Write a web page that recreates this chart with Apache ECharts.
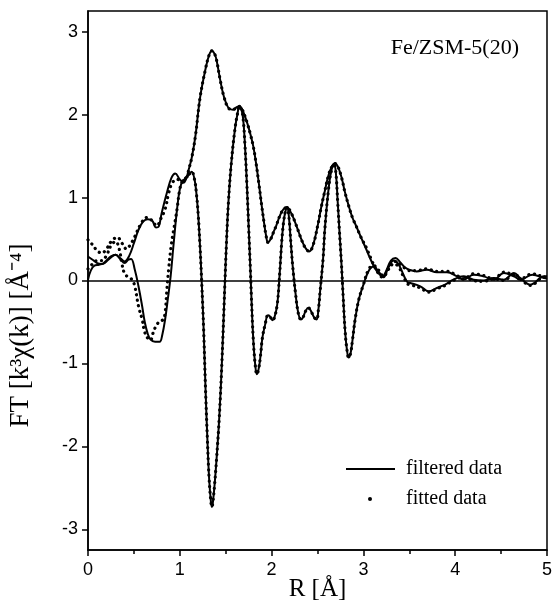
<!DOCTYPE html>
<html>
<head>
<meta charset="utf-8">
<script src="https://cdn.jsdelivr.net/npm/echarts@6/dist/echarts.min.js"></script>
<style>
  html, body { margin: 0; padding: 0; background: #fff; }
  #chart { width: 554px; height: 601px; }
</style>
</head>
<body>
<div id="chart"></div>
<script>
// Fourier transform of the k^3-weighted EXAFS of Fe/ZSM-5(20):
// magnitude and oscillating part, filtered data (solid) and fit (dots).
// Each series is a list of [R (Å), FT value] pairs.

// x / y tick positions
const xTicks = [0, 1, 2, 3, 4, 5];
const yTicks = [-3, -2, -1, 0, 1, 2, 3];

// --- magnitude, low-R part (filtered and fit differ here)
const filteredMagLow = [
  [0, 0.29], [0.05, 0.25], [0.1, 0.21], [0.15, 0.2], [0.2, 0.24], [0.25, 0.29],
  [0.3, 0.31], [0.35, 0.27], [0.4, 0.23], [0.45, 0.3], [0.5, 0.45], [0.55, 0.61],
  [0.6, 0.71], [0.65, 0.74], [0.7, 0.72], [0.74, 0.64], [0.77, 0.65], [0.8, 0.8],
  [0.86, 1.06], [0.91, 1.24], [0.95, 1.29], [1.0, 1.22], [1.04, 1.18]
];
const fittedMagLow = [
  [0, 0.49], [0.05, 0.43], [0.1, 0.36], [0.15, 0.33], [0.2, 0.38], [0.26, 0.48],
  [0.32, 0.52], [0.37, 0.45], [0.42, 0.38], [0.46, 0.43], [0.51, 0.53], [0.57, 0.67],
  [0.64, 0.76], [0.69, 0.73], [0.75, 0.66], [0.79, 0.74], [0.84, 0.86], [0.88, 1.06],
  [0.92, 1.18], [0.97, 1.22], [1.02, 1.2]
];
// --- magnitude, range where filtered data and fit coincide
const magCore = [
  [1.07, 1.23], [1.1, 1.35], [1.13, 1.48], [1.17, 1.74], [1.22, 2.2], [1.28, 2.55],
  [1.32, 2.72], [1.35, 2.77], [1.38, 2.73], [1.4, 2.66], [1.44, 2.42], [1.48, 2.22],
  [1.53, 2.08], [1.58, 2.06], [1.62, 2.09], [1.65, 2.1], [1.68, 2.06], [1.71, 1.98],
  [1.74, 1.88], [1.77, 1.76], [1.8, 1.62], [1.83, 1.42], [1.86, 1.18], [1.89, 0.92],
  [1.92, 0.68], [1.94, 0.54], [1.96, 0.46], [1.99, 0.5], [2.02, 0.58], [2.05, 0.66],
  [2.09, 0.78], [2.13, 0.86], [2.17, 0.88], [2.21, 0.82], [2.25, 0.72], [2.29, 0.6],
  [2.33, 0.48], [2.37, 0.39], [2.41, 0.35], [2.45, 0.42], [2.5, 0.65], [2.54, 0.88],
  [2.58, 1.08], [2.62, 1.27], [2.66, 1.38], [2.69, 1.41], [2.72, 1.38], [2.76, 1.25],
  [2.8, 1.06], [2.84, 0.9], [2.88, 0.76], [2.92, 0.66], [2.97, 0.53]
];
// --- magnitude, high-R tail
const filteredMagTail = [
  [3.03, 0.38], [3.08, 0.25], [3.13, 0.14], [3.18, 0.07], [3.21, 0.05], [3.25, 0.12],
  [3.3, 0.24], [3.35, 0.27], [3.4, 0.22], [3.45, 0.16], [3.5, 0.13], [3.58, 0.11],
  [3.69, 0.13], [3.8, 0.1], [3.91, 0.1], [4.02, 0.05], [4.09, 0.01], [4.2, 0.07],
  [4.31, 0.05], [4.42, 0.01], [4.53, 0.09], [4.64, 0.05], [4.71, 0.01], [4.84, 0.07],
  [4.97, 0.03], [5.0, 0.02]
];
const fittedMagTail = [
  [3.03, 0.4], [3.08, 0.27], [3.13, 0.15], [3.18, 0.06], [3.21, 0.04], [3.25, 0.1],
  [3.3, 0.2], [3.35, 0.23], [3.4, 0.2], [3.45, 0.15], [3.5, 0.12], [3.58, 0.12],
  [3.69, 0.14], [3.8, 0.11], [3.91, 0.11], [4.02, 0.06], [4.09, 0.02], [4.2, 0.08],
  [4.31, 0.06], [4.42, 0.02], [4.53, 0.1], [4.64, 0.06], [4.71, 0.02], [4.84, 0.08],
  [4.97, 0.04], [5.0, 0.03]
];

// --- oscillating part, low-R
const filteredOscLow = [
  [0, 0.01], [0.03, 0.12], [0.07, 0.18], [0.12, 0.19], [0.18, 0.21], [0.24, 0.27],
  [0.3, 0.31], [0.35, 0.26], [0.4, 0.21], [0.44, 0.25], [0.47, 0.26], [0.51, 0.13],
  [0.55, -0.07], [0.59, -0.31], [0.62, -0.51], [0.65, -0.64], [0.68, -0.71], [0.73, -0.74],
  [0.78, -0.74], [0.81, -0.65], [0.84, -0.47], [0.87, -0.22], [0.9, 0.05], [0.93, 0.41],
  [0.97, 0.86]
];
const fittedOscLow = [
  [0, 0.14], [0.05, 0.2], [0.1, 0.24], [0.15, 0.24], [0.2, 0.3], [0.25, 0.42],
  [0.3, 0.47], [0.34, 0.38], [0.37, 0.2], [0.4, 0.08], [0.44, 0.04], [0.48, 0.01],
  [0.51, -0.07], [0.55, -0.31], [0.59, -0.47], [0.62, -0.63], [0.66, -0.71], [0.68, -0.72],
  [0.71, -0.63], [0.75, -0.53], [0.79, -0.49], [0.82, -0.47], [0.84, -0.39], [0.86, -0.1],
  [0.88, 0.15], [0.91, 0.45], [0.95, 0.72], [0.97, 0.86]
];
// --- oscillating part, common range
const oscCore = [
  [1.0, 1.1], [1.03, 1.2], [1.06, 1.23], [1.1, 1.28], [1.13, 1.31], [1.16, 1.22],
  [1.18, 1.06], [1.2, 0.8], [1.22, 0.42], [1.24, -0.05], [1.26, -0.6], [1.28, -1.3],
  [1.3, -1.9], [1.32, -2.4], [1.34, -2.68], [1.35, -2.73], [1.36, -2.68], [1.38, -2.45],
  [1.4, -2.16], [1.43, -1.65], [1.46, -0.95], [1.49, -0.07], [1.51, 0.5], [1.53, 0.95],
  [1.56, 1.4], [1.6, 1.82], [1.63, 2.02], [1.65, 2.1], [1.67, 2.07], [1.69, 1.95],
  [1.71, 1.63], [1.73, 1.18], [1.75, 0.65], [1.77, 0.1], [1.78, -0.2], [1.8, -0.7],
  [1.82, -1.0], [1.84, -1.13], [1.86, -1.06], [1.88, -0.9], [1.9, -0.69], [1.93, -0.53],
  [1.96, -0.42], [1.98, -0.43], [2.01, -0.48], [2.03, -0.45], [2.06, -0.3], [2.08, -0.05],
  [2.11, 0.46], [2.13, 0.7], [2.15, 0.83], [2.17, 0.88], [2.19, 0.75], [2.21, 0.45],
  [2.23, 0.17], [2.26, -0.15], [2.29, -0.39], [2.32, -0.47], [2.34, -0.45], [2.37, -0.37],
  [2.4, -0.33], [2.43, -0.37], [2.46, -0.44], [2.49, -0.47], [2.51, -0.35], [2.53, -0.11],
  [2.56, 0.25], [2.58, 0.62], [2.62, 1.1], [2.65, 1.32], [2.68, 1.41], [2.7, 1.3],
  [2.72, 0.95], [2.74, 0.58], [2.76, 0.22], [2.78, -0.2], [2.8, -0.6], [2.82, -0.83],
  [2.84, -0.93], [2.86, -0.88], [2.88, -0.73], [2.91, -0.47], [2.95, -0.23], [3.0, -0.05]
];
// --- oscillating part, high-R tail
const filteredOscTail = [
  [3.06, 0.12], [3.11, 0.17], [3.17, 0.1], [3.22, 0.04], [3.27, 0.15], [3.33, 0.24],
  [3.38, 0.2], [3.44, 0.06], [3.48, -0.02], [3.51, -0.03], [3.62, -0.07], [3.71, -0.13],
  [3.8, -0.09], [3.89, -0.05], [3.98, 0.01], [4.09, 0.05], [4.2, 0.01], [4.31, 0.0],
  [4.42, 0.03], [4.53, 0.01], [4.64, 0.09], [4.71, 0.03], [4.82, -0.05], [4.97, 0.05],
  [5.0, 0.05]
];
const fittedOscTail = [
  [3.06, 0.14], [3.11, 0.18], [3.17, 0.12], [3.22, 0.05], [3.27, 0.13], [3.33, 0.2],
  [3.38, 0.17], [3.44, 0.04], [3.48, -0.04], [3.51, -0.05], [3.62, -0.09], [3.71, -0.14],
  [3.8, -0.1], [3.89, -0.06], [3.98, 0.0], [4.09, 0.04], [4.2, 0.0], [4.31, -0.01],
  [4.42, 0.02], [4.53, 0.0], [4.64, 0.08], [4.71, 0.02], [4.82, -0.06], [4.97, 0.04],
  [5.0, 0.04]
];

const filteredMag = filteredMagLow.concat(magCore, filteredMagTail);
const fittedMag = fittedMagLow.concat(magCore, fittedMagTail);
const filteredOsc = filteredOscLow.concat(oscCore, filteredOscTail);
const fittedOsc = fittedOscLow.concat(oscCore, fittedOscTail);

const SANS = 'Liberation Sans, Arial, sans-serif';
const SERIF = 'Liberation Serif, Times New Roman, serif';

const solidStyle = { color: '#000', width: 2 };
const dotStyle = { color: '#000', width: 3.2, type: [0.1, 5.5], cap: 'round' };

function solidSeries(data, withZeroLine) {
  const s = {
    name: 'filtered data', type: 'line', data: data, smooth: 0.4,
    showSymbol: false, symbol: 'none', lineStyle: solidStyle, itemStyle: { color: '#000' },
    silent: true, z: 3
  };
  if (withZeroLine) {
    s.markLine = {
      silent: true, symbol: 'none', label: { show: false },
      lineStyle: { color: '#000', width: 1.5, type: 'solid' },
      data: [{ yAxis: 0 }]
    };
  }
  return s;
}
function dotSeries(data) {
  return {
    name: 'fitted data', type: 'line', data: data, smooth: 0.4,
    showSymbol: false, symbol: 'none', lineStyle: dotStyle, itemStyle: { color: '#000' },
    silent: true, z: 4
  };
}

const chart = echarts.init(document.getElementById('chart'), null, { renderer: 'canvas' });
chart.setOption({
  animation: false,
  backgroundColor: '#fff',
  title: {
    text: 'Fe/ZSM-5(20)',
    right: 30, top: 32,
    textStyle: { fontFamily: SERIF, fontSize: 22, fontWeight: 'normal', color: '#000' }
  },
  legend: [
    {
      data: [{ name: 'filtered data', icon: 'rect' }],
      left: 341, top: 454, itemWidth: 49, itemHeight: 2,
      textStyle: { fontFamily: SERIF, fontSize: 20, color: '#000', padding: [0, 0, 0, 6] },
      selectedMode: false
    },
    {
      data: [{ name: 'fitted data', icon: 'circle' }],
      left: 363, top: 484, itemWidth: 4, itemHeight: 4,
      textStyle: { fontFamily: SERIF, fontSize: 20, color: '#000', padding: [0, 0, 0, 29] },
      selectedMode: false
    }
  ],
  grid: {
    left: 88, right: 7, top: 11, bottom: 51,
    outerBoundsMode: 'none',
    show: true, borderColor: '#000', borderWidth: 1.5, backgroundColor: 'transparent'
  },
  xAxis: {
    type: 'value', min: xTicks[0], max: xTicks[xTicks.length - 1], interval: 1,
    name: 'R [Å]', nameLocation: 'middle', nameGap: 27, nameMoveOverlap: false,
    nameTextStyle: { fontFamily: SERIF, fontSize: 25, color: '#000' },
    axisLine: { show: true, onZero: false, lineStyle: { color: '#000', width: 1.5 } },
    axisTick: { show: true, inside: false, length: 6, lineStyle: { color: '#000', width: 1.5 } },
    minorTick: { show: true, splitNumber: 2, length: 4, lineStyle: { color: '#000', width: 1.5 } },
    splitLine: { show: false },
    minorSplitLine: { show: false },
    axisLabel: { fontFamily: SANS, fontSize: 18, color: '#000', margin: 11 }
  },
  yAxis: {
    type: 'value', min: -3.25, max: 3.25,
    name: 'FT [k³χ(k)] [Å⁻⁴]', nameLocation: 'middle', nameGap: 54, nameMoveOverlap: false,
    // extra trailing padding moves the rotated title down along the axis
    nameTextStyle: { fontFamily: SERIF, fontSize: 27, color: '#000', padding: [0, 110, 0, 0] },
    axisLine: { show: true, onZero: false, lineStyle: { color: '#000', width: 1.5 } },
    axisTick: { show: true, inside: false, length: 6, customValues: yTicks, lineStyle: { color: '#000', width: 1.5 } },
    splitLine: { show: false },
    axisLabel: { fontFamily: SANS, fontSize: 18, color: '#000', margin: 10, customValues: yTicks }
  },
  series: [
    solidSeries(filteredMag, true),
    solidSeries(filteredOsc, false),
    dotSeries(fittedMag),
    dotSeries(fittedOsc)
  ]
});
</script>
</body>
</html>
